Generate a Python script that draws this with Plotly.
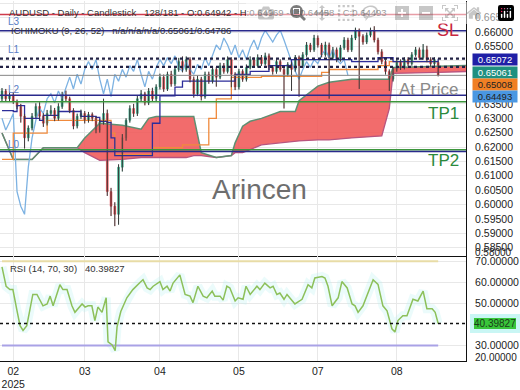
import plotly.graph_objects as go

# ---------------- data ----------------
closes = [0.6395,0.6368,0.6381,0.6358,0.6341,0.6307,0.6232,0.6266,0.6307,0.6341,
0.6307,0.6283,0.6317,0.6327,0.6300,0.6341,0.6381,0.6368,0.6327,0.6273,
0.6307,0.6317,0.6293,0.6313,0.6300,0.6259,0.6286,0.6317,0.6045,0.5994,
0.5966,0.6130,0.6232,0.6293,0.6334,0.6317,0.6368,0.6385,0.6354,0.6395,
0.6368,0.6409,0.6443,0.6402,0.6453,0.6419,0.6470,0.6497,0.6470,0.6504,
0.6436,0.6385,0.6436,0.6375,0.6453,0.6429,0.6470,0.6443,0.6483,0.6463,
0.6504,0.6453,0.6409,0.6463,0.6436,0.6477,0.6504,0.6483,0.6511,0.6490,
0.6517,0.6477,0.6463,0.6497,0.6470,0.6453,0.6487,0.6470,0.6511,0.6483,
0.6521,0.6555,0.6538,0.6579,0.6555,0.6521,0.6555,0.6511,0.6538,0.6504,
0.6545,0.6572,0.6538,0.6579,0.6606,0.6585,0.6565,0.6589,0.6606,0.6572,
0.6531,0.6497,0.6463,0.6436,0.6470,0.6497,0.6477,0.6504,0.6490,0.6521,
0.6538,0.6511,0.6538,0.6504,0.6490,0.6504,0.64493]

opens = [0.6368,0.6395,0.6368,0.6381,0.6358,0.6341,0.6307,0.6232,0.6266,0.6307,
0.6341,0.6307,0.6283,0.6317,0.6327,0.6300,0.6341,0.6381,0.6368,0.6327,
0.6273,0.6307,0.6317,0.6293,0.6313,0.6300,0.6259,0.6286,0.6317,0.6045,
0.5994,0.5966,0.6130,0.6232,0.6293,0.6334,0.6317,0.6368,0.6385,0.6354,
0.6395,0.6368,0.6409,0.6443,0.6402,0.6453,0.6419,0.6470,0.6497,0.6470,
0.6504,0.6436,0.6385,0.6436,0.6375,0.6453,0.6429,0.6470,0.6443,0.6483,
0.6463,0.6504,0.6453,0.6409,0.6463,0.6436,0.6477,0.6504,0.6483,0.6511,
0.6490,0.6517,0.6477,0.6463,0.6497,0.6470,0.6453,0.6487,0.6470,0.6511,
0.6483,0.6521,0.6555,0.6538,0.6579,0.6555,0.6521,0.6555,0.6511,0.6538,
0.6504,0.6545,0.6572,0.6538,0.6579,0.6606,0.6585,0.6565,0.6589,0.6606,
0.6572,0.6531,0.6497,0.6463,0.6436,0.6470,0.6497,0.6477,0.6504,0.6490,
0.6521,0.6538,0.6511,0.6538,0.6504,0.6490,0.64942]

highs = [0.6405,0.6402,0.6392,0.6390,0.6365,0.6350,0.6315,0.6275,0.6318,0.6352,
0.6356,0.6318,0.6329,0.6345,0.6336,0.6352,0.6392,0.6396,0.6375,0.6335,
0.6316,0.6330,0.6325,0.6322,0.6320,0.6308,0.6296,0.6368,0.6330,0.6058,
0.6008,0.6140,0.6245,0.6300,0.6345,0.6350,0.6378,0.6398,0.6392,0.6405,
0.6406,0.6418,0.6455,0.6452,0.6462,0.6465,0.6480,0.6510,0.6515,0.6515,
0.6512,0.6445,0.6448,0.6444,0.6462,0.6462,0.6480,0.6478,0.6493,0.6492,
0.6515,0.6512,0.6460,0.6472,0.6470,0.6487,0.6515,0.6512,0.6522,0.6520,
0.6528,0.6525,0.6485,0.6506,0.6505,0.6478,0.6495,0.6495,0.6520,0.6518,
0.6530,0.6565,0.6562,0.6590,0.6588,0.6562,0.6566,0.6563,0.6548,0.6546,
0.6555,0.6582,0.6580,0.6590,0.6615,0.6612,0.6592,0.6598,0.6615,0.6620,
0.6580,0.6540,0.6505,0.6470,0.6478,0.6506,0.6505,0.6512,0.6512,0.6530,
0.6548,0.6546,0.6558,0.6552,0.6512,0.6512,0.64969]

lows = [0.6360,0.6358,0.6360,0.6350,0.6332,0.6285,0.6195,0.6220,0.6258,0.6300,
0.6295,0.6270,0.6275,0.6308,0.6290,0.6292,0.6333,0.6358,0.6318,0.6262,
0.6265,0.6298,0.6282,0.6285,0.6290,0.6248,0.6250,0.6278,0.6030,0.5960,
0.5925,0.5930,0.6115,0.6222,0.6285,0.6305,0.6308,0.6358,0.6345,0.6346,
0.6358,0.6360,0.6400,0.6392,0.6395,0.6410,0.6412,0.6462,0.6460,0.6462,
0.6425,0.6372,0.6377,0.6362,0.6368,0.6420,0.6421,0.6410,0.6436,0.6455,
0.6456,0.6408,0.6398,0.6400,0.6427,0.6428,0.6470,0.6475,0.6476,0.6482,
0.6483,0.6468,0.6452,0.6455,0.6462,0.6334,0.6446,0.6395,0.6462,0.6375,
0.6476,0.6514,0.6530,0.6531,0.6546,0.6512,0.6514,0.6368,0.6503,0.6495,
0.6497,0.6538,0.6530,0.6531,0.6572,0.6402,0.6556,0.6558,0.6582,0.6564,
0.6522,0.6488,0.6452,0.6395,0.6428,0.6462,0.6468,0.6470,0.6482,0.6483,
0.6514,0.6503,0.6504,0.6495,0.6480,0.6482,0.64458]

idx = list(range(len(closes)))

tenkan_x = [0, 3, 4, 5, 6, 10, 11, 14, 15, 20, 21, 25, 26, 28, 29, 30, 38, 40, 42, 46, 48, 57, 62, 66, 71, 77, 87, 93, 100, 104, 111, 116]
tenkan = [0.63269,0.63235,0.63439,0.63439,0.62997,0.62929,0.63099,0.63099,0.63235,0.63235,
          0.63065,0.63031,0.62895,0.62861,0.62316,0.61704,0.61704,0.62827,0.63779,0.64085,
          0.64289,0.64289,0.64527,0.64629,0.64833,0.65037,0.65037,0.64969,0.65105,0.64969,
          0.64969,0.65072]

kijun_x = [0, 2, 3, 11, 12, 27, 29, 30, 39, 40, 48, 54, 55, 57, 61, 69, 85, 87, 100, 103, 116]
kijun = [0.61568,0.61568,0.62486,0.62486,0.62929,0.62929,0.62486,0.61738,0.61738,0.61976,
         0.62078,0.62078,0.62997,0.63677,0.64425,0.64459,0.64595,0.64697,0.64833,0.64969,0.65008]

cloud_x = [0, 3, 8, 11, 20, 22, 26, 32, 37, 39, 41, 49, 51, 53, 57, 61, 62, 64, 66, 69, 74, 78, 79, 84, 87, 93, 101, 103, 104, 116, 124]
span_top = [0.62486,0.61568,0.61568,0.61976,0.61976,0.62316,0.62827,0.62759,0.62622,0.62997,
            0.63065,0.63065,0.63065,0.61806,0.61636,0.61704,0.62146,0.62725,0.62895,0.62997,
            0.63235,0.63235,0.63609,0.64119,0.64255,0.64357,0.64357,0.64357,0.64765,0.64799,0.64833]
span_bot = [0.62486,0.61568,0.61568,0.61976,0.61976,0.61806,0.61534,0.61568,0.61636,0.61636,
            0.61636,0.61636,0.61704,0.61704,0.61636,0.61704,0.61806,0.61806,0.61908,0.62078,
            0.62146,0.62214,0.62214,0.62248,0.62248,0.62316,0.62384,0.63337,0.64561,0.64595,0.64629]

CHIKOU_SHIFT = 24

rsi_x = [0,1.1,2.1,2.9,4.0,4.8,5.6,6.6,8.2,9.3,10.9,12.0,12.8,13.6,15.4,16.2,17.3,18.6,19.4,21.3,
         22.1,22.9,23.9,24.7,25.5,26.6,27.7,28.2,29.3,30.1,30.6,31.6,33.2,34.8,36.7,37.5,38.6,39.4,40.2,42.0,
         42.8,43.9,44.7,45.5,47.3,48.7,50.0,50.8,52.1,53.5,54.5,55.9,56.6,58.0,58.8,59.8,60.6,62.0,62.8,64.1,
         64.9,66.0,67.8,68.6,69.9,71.3,72.1,73.1,73.9,75.0,75.8,77.9,79.8,81.4,82.4,83.2,85.1,85.9,86.7,87.8,
         89.4,90.4,91.8,93.1,93.9,94.7,96.0,98.7,100.0,101.3,102.4,103.7,104.5,105.3,106.6,107.7,109.3,110.6,112.0,113.0,
         114.4,115.2,116]
rsi = [67.3,58,56.5,56.5,46.4,39.4,37.1,39.4,54.2,54.2,48.8,49.7,53.4,48.8,58.8,56.5,56.5,48.8,45.7,49.7,
       48.2,48.8,48.8,41.8,48.2,45.7,52.6,31.7,30.2,27.5,38.8,46.1,52.6,56.5,59.9,61.2,57.3,56.5,58.1,60.3,
       56.5,58.1,55.8,59.6,63.5,54.2,53.4,50.3,58.1,53.4,52.6,55.8,53.4,53.4,51.5,58.1,57.3,51.1,52.6,51.9,
       58.1,54.2,58.1,56.5,59.6,57.3,58.1,54.2,54.9,51.9,54.2,49.7,51.9,58.8,57.3,62,62.7,62,58.1,48.8,
       52.6,60.3,57.3,49.7,48.8,45.7,48.8,61.2,59,48.8,46.4,37.9,36.4,41.8,44.1,44.1,51.9,51.1,55.8,47.4,
       47.4,45.7,40.39827]
rsi_last = 40.39827
rsi_levels = [70, 30]

month_idx = [3, 22, 42, 63, 84, 105]
month_labels = ["02<br>2025", "03", "04", "05", "07", "08"]

price_ticks = [0.585, 0.59, 0.595, 0.60, 0.605, 0.61, 0.615, 0.62, 0.625, 0.63, 0.635,
               0.64, 0.645, 0.65, 0.655, 0.66, 0.665, 0.67]
hidden_price_ticks = [0.64, 0.645, 0.65]   # covered by the value boxes
rsi_ticks = [30, 50, 60, 70]

level_vals = [0.66606, 0.66044, 0.65072, 0.64786, 0.64493, 0.63802, 0.63575, 0.6191, 0.61843]
level_cols = ["#cf3b4c", "#2a2a8c", "#222244", "#222244", "#8a8a8a", "#2a2a8c", "#3c963c", "#3c963c", "#2a2a8c"]
level_dash = ["solid", "solid", "dot", "dot", "solid", "solid", "solid", "solid", "solid"]
level_w = [1.5, 1.5, 2.2, 2.2, 1, 1.5, 1.5, 1.5, 1.5]

level_labels = ["0.66606", "0.66044", "0.65072", "0.64119", "0.63802", "0.61843"]
level_label_vals = [0.66606, 0.66044, 0.65072, 0.64119, 0.63802, 0.61843]

# ---------------- figure ----------------
GREEN = "#23a07a"
RED = "#e5393f"
FONT = "Liberation Sans, Arial, sans-serif"

fig = go.Figure()

fig.add_trace(go.Scatter(x=cloud_x, y=span_bot, mode="lines", line=dict(color="#b8557f", width=1.3),
                         hoverinfo="skip", showlegend=False))
fig.add_trace(go.Scatter(x=cloud_x, y=span_top, mode="lines", line=dict(color="#5f8f72", width=1.5),
                         fill="tonexty", fillcolor="rgba(240,82,82,0.85)", hoverinfo="skip", showlegend=False))
fig.add_trace(go.Scatter(x=[i - CHIKOU_SHIFT for i in idx[CHIKOU_SHIFT:]], y=closes[CHIKOU_SHIFT:],
                         mode="lines", line=dict(color="#7db2e2", width=1.3), showlegend=False))
fig.add_trace(go.Scatter(x=kijun_x, y=kijun, mode="lines", line=dict(color="#f08a3c", width=1.3, shape="hv"),
                         showlegend=False))
fig.add_trace(go.Scatter(x=tenkan_x, y=tenkan, mode="lines", line=dict(color="#2d2d9a", width=1.3, shape="hv"),
                         showlegend=False))

wx, wy = [], []
for i, h, l in zip(idx, highs, lows):
    wx += [i, i, None]
    wy += [l, h, None]
fig.add_trace(go.Scatter(x=wx, y=wy, mode="lines", line=dict(color="#3a3a3a", width=1), showlegend=False,
                         hoverinfo="skip"))
fig.add_trace(go.Candlestick(x=idx, open=opens, high=highs, low=lows, close=closes,
                             increasing=dict(line=dict(color=GREEN, width=0.5), fillcolor=GREEN),
                             decreasing=dict(line=dict(color=RED, width=0.5), fillcolor=RED),
                             whiskerwidth=0, showlegend=False, xaxis="x", yaxis="y"))

fig.add_trace(go.Scatter(x=rsi_x, y=rsi, mode="lines", line=dict(color="rgba(175,240,240,0.25)", width=9),
                         xaxis="x2", yaxis="y2", showlegend=False, hoverinfo="skip"))
fig.add_trace(go.Scatter(x=[0, idx[-1]], y=[rsi_levels[0]] * 2, mode="lines",
                         line=dict(color="#e8dca6", width=2), xaxis="x2", yaxis="y2", showlegend=False))
fig.add_trace(go.Scatter(x=[0, idx[-1]], y=[rsi_levels[1]] * 2, mode="lines",
                         line=dict(color="#a9a2e6", width=2), xaxis="x2", yaxis="y2", showlegend=False))
fig.add_trace(go.Scatter(x=rsi_x, y=rsi, mode="lines", line=dict(color="#8cc05a", width=1.5),
                         xaxis="x2", yaxis="y2", showlegend=False))

shapes = []
for v, c, d, w in zip(level_vals, level_cols, level_dash, level_w):
    shapes.append(dict(type="line", xref="x domain", yref="y", x0=0, x1=1, y0=v, y1=v,
                       line=dict(color=c, dash=d, width=w)))
shapes.append(dict(type="line", xref="x2 domain", yref="y2", x0=0, x1=1, y0=rsi_last, y1=rsi_last,
                   line=dict(color="#111", dash="dot", width=1.5)))

H_PLOT = 368.0
W_PLOT = 466.0


def pxy(y):
    return (H_PLOT - y) / H_PLOT


def pxx(x):
    return x / W_PLOT


ann = []


def text(x, y, s, size=10, color="#333", anchor="left"):
    ann.append(dict(x=pxx(x), y=pxy(y), xref="paper", yref="paper", text=s, showarrow=False,
                    xanchor=anchor, yanchor="middle", font=dict(family=FONT, size=size, color=color)))


sp = "\u00a0\u00a0\u00a0"
text(7, 12, "AUDUSD - Daily - Candlestick" + sp + "128/181 - O:0.64942 - H:0.64969 - L:0.64458 - C:0.64493", 9.5)
text(9, 30, "ICHIMOKU (9, 26, 52)" + sp + "n/a/n/a/n/a/0.65061/0.64786", 9.5)
for lab, yy in zip(["L3", "L1", "L2", "L0"], [21, 50, 90, 147]):
    text(6, yy, lab, 10, "#5a7ec6")
for lab, v in zip(level_labels, level_label_vals):
    ann.append(dict(x=392, y=v, xref="x", yref="y", text=lab, showarrow=False, xanchor="left",
                    yanchor="bottom", yshift=-1, font=dict(family=FONT, size=10, color="#6a86d2")))
text(461, 30, "SL", 18, "#c8283e", "right")
text(461, 115, "TP1", 17, "#2b8a3c", "right")
text(461, 163, "TP2", 17, "#2b8a3c", "right")
text(461, 90, "At Price", 17, "#8a8a8a", "right")
text(259, 193, "Arincen", 28, "#6e6e6e", "center")
text(8, 273, "RSI (14, 70, 30)" + sp + "40.39827", 9.5)

ann.append(dict(x=1, y=pxy(257), xref="paper", yref="paper", text="0.58000", showarrow=False, xanchor="left",
                xshift=7, yanchor="middle", font=dict(family=FONT, size=10, color="#222")))
ann.append(dict(x=1, y=pxy(364), xref="paper", yref="paper", text="20.00000", showarrow=False, xanchor="left",
                xshift=7, yanchor="middle", font=dict(family=FONT, size=10, color="#222")))

boxes = [("0.65072", "#1f1fa6", "white", 60),
         ("0.65061", "#1f9080", "white", 72.6),
         ("0.65008", "#f07f24", "#222", 85.2),
         ("0.64493", "#4a97e2", "#222", 97.8)]
for s, bg, fc, yy in boxes:
    ann.append(dict(x=1, y=pxy(yy), xref="paper", yref="paper", text=s, showarrow=False, xanchor="left",
                    xshift=6, yanchor="middle", bgcolor=bg, borderpad=0, width=44, height=11,
                    font=dict(family=FONT, size=9.5, color=fc)))
ann.append(dict(x=1, y=rsi_last, xref="paper", yref="y2", text="40.39827", showarrow=False, xanchor="left",
                xshift=4, yanchor="middle", bgcolor="#39c63a", bordercolor="#c9f6f4", borderwidth=4, borderpad=0,
                font=dict(family=FONT, size=10, color="#1a3a1a")))

XR = [-0.53, 123.4]
fig.update_layout(
    width=520, height=390, margin=dict(l=0, r=54, t=0, b=22),
    paper_bgcolor="white", plot_bgcolor="white",
    font=dict(family=FONT, size=10, color="#222"),
    showlegend=False,
    xaxis=dict(domain=[0, 1], range=XR, anchor="y", tickvals=month_idx, showticklabels=False,
               showgrid=True, gridcolor="#e8e8e8", zeroline=False, showline=True, linecolor="#111",
               linewidth=1, rangeslider=dict(visible=False), ticks=""),
    yaxis=dict(domain=[pxy(261), 1], range=[0.5820, 0.67078], side="right", tickvals=price_ticks,
               ticktext=["" if t in hidden_price_ticks else "%.5f" % t for t in price_ticks],
               showgrid=True, gridcolor="#e8e8e8",
               zeroline=False, showline=True, linecolor="#111", linewidth=1, ticks="outside",
               ticklen=6, tickcolor="rgba(0,0,0,0)", tickfont=dict(size=10.5)),
    xaxis2=dict(domain=[0, 1], range=XR, anchor="y2", tickvals=month_idx, ticktext=month_labels,
                showgrid=True, gridcolor="#e8e8e8", zeroline=False, showline=True, linecolor="#111",
                linewidth=1, ticks="", tickfont=dict(size=10.5)),
    yaxis2=dict(domain=[0, pxy(261)], range=[22.6, 72.3], side="right", anchor="x2", tickvals=rsi_ticks,
                ticktext=["%.5f" % t for t in rsi_ticks], showgrid=True, gridcolor="#e8e8e8",
                zeroline=False, showline=True, linecolor="#111", linewidth=1, ticks="outside",
                ticklen=6, tickcolor="rgba(0,0,0,0)", tickfont=dict(size=10.5)),
    shapes=shapes, annotations=ann,
)

fig.write_html("out.html", post_script="document.body.style.margin='0';document.body.style.overflow='hidden';")
